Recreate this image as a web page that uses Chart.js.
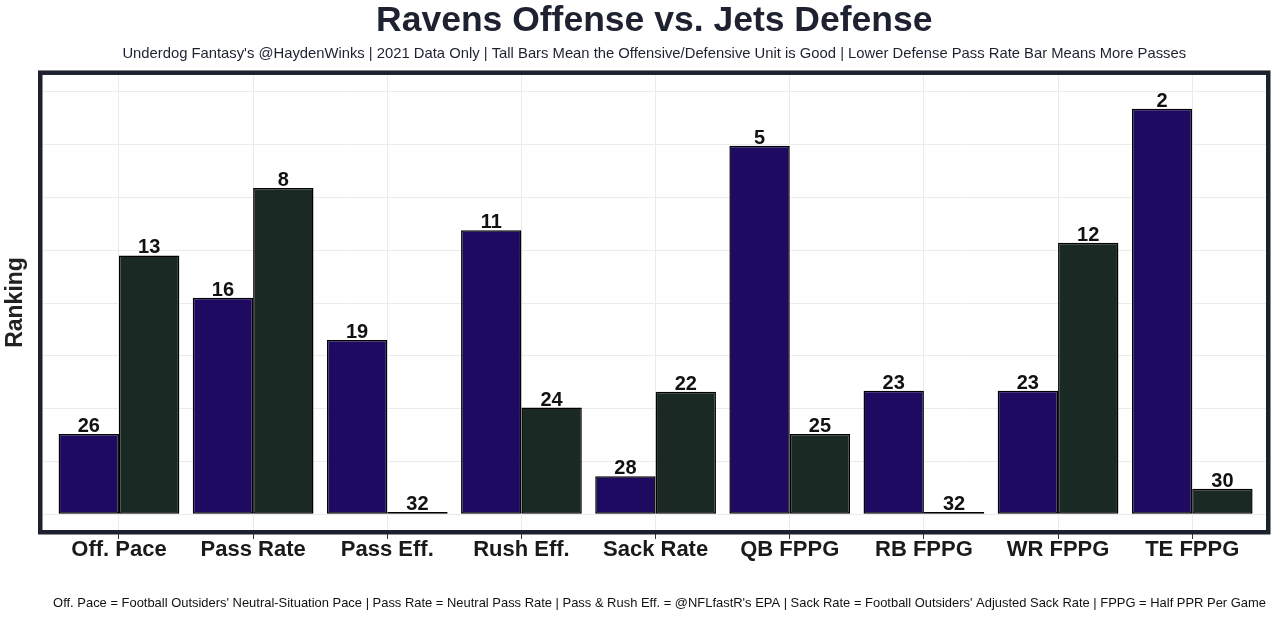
<!DOCTYPE html>
<html>
<head>
<meta charset="utf-8">
<script src="https://cdn.jsdelivr.net/npm/chart.js@4"></script>
<style>
  html, body { margin: 0; padding: 0; background: #fff; }
  #wrap { width: 1280px; height: 618px; }
</style>
</head>
<body>
<div id="wrap"><canvas id="bar-chart"></canvas></div>
<script>
// categories and values
var categorie = ['Off. Pace', 'Pass Rate', 'Pass Eff.', 'Rush Eff.', 'Sack Rate', 'QB FPPG', 'RB FPPG', 'WR FPPG', 'TE FPPG'];
var attaccoAltezza = [7.6, 20.5, 16.5, 26.9, 3.6, 34.9, 11.7, 11.7, 38.4];
var difesaAltezza = [24.5, 30.9, 0.2, 10.1, 11.6, 7.6, 0.2, 25.7, 2.4];
var attaccoRank = [26, 16, 19, 11, 28, 5, 23, 23, 2];
var difesaRank = [13, 8, 32, 24, 22, 25, 32, 12, 30];
var righeGriglia = [0, 5, 10, 15, 20, 25, 30, 35, 40];

var FONT = "'Liberation Sans', Arial, sans-serif";

function punti(valori) {
    return valori.map(function(v, i) { return {x: i, y: v}; });
}

// numbers above the bars
var etichette = {
    id: 'etichette',
    afterDatasetsDraw: function(chart) {
        var ctx = chart.ctx;
        var ranks = [attaccoRank, difesaRank];
        ctx.save();
        ctx.font = 'bold 20px ' + FONT;
        ctx.fillStyle = '#111';
        ctx.textAlign = 'center';
        ctx.textBaseline = 'alphabetic';
        chart.data.datasets.forEach(function(ds, d) {
            chart.getDatasetMeta(d).data.forEach(function(bar, i) {
                ctx.fillText(String(ranks[d][i]), bar.x, bar.y - 2);
            });
        });
        ctx.restore();
    }
};

// thick frame round the panel
var cornice = {
    id: 'cornice',
    afterDraw: function(chart) {
        var a = chart.chartArea;
        var ctx = chart.ctx;
        ctx.save();
        ctx.strokeStyle = '#1d212d';
        ctx.lineWidth = 4.5;
        ctx.strokeRect(a.left - 2.25, a.top - 2.25, a.right - a.left + 4.5, a.bottom - a.top + 4.5);
        ctx.restore();
    }
};

var barChart = new Chart(document.getElementById('bar-chart'), {
    type: 'bar',
    data: {
        datasets: [{
            label: 'Ravens Offense',
            data: punti(attaccoAltezza),
            backgroundColor: '#1f0a61',
            borderColor: '#000',
            borderWidth: 1.5,
            borderSkipped: false
        }, {
            label: 'Jets Defense',
            data: punti(difesaAltezza),
            backgroundColor: '#1b2924',
            borderColor: '#000',
            borderWidth: 1.5,
            borderSkipped: false
        }]
    },
    options: {
        responsive: true,
        maintainAspectRatio: false,
        animation: false,
        categoryPercentage: 0.9,
        barPercentage: 1.0,
        layout: { padding: { right: 14 } },
        plugins: {
            legend: { display: false },
            tooltip: { enabled: false },
            title: {
                display: true,
                fullSize: false,
                text: 'Ravens Offense vs. Jets Defense',
                color: '#1e2130',
                font: { family: FONT, size: 35.5, weight: 'bold', lineHeight: 1.2 },
                padding: { top: 0.2, bottom: 0 }
            },
            subtitle: {
                display: true,
                fullSize: false,
                text: "Underdog Fantasy's @HaydenWinks | 2021 Data Only | Tall Bars Mean the Offensive/Defensive Unit is Good | Lower Defense Pass Rate Bar Means More Passes",
                color: '#1e2130',
                font: { family: FONT, size: 14.8, lineHeight: 1.2 },
                padding: { top: 2.3, bottom: 12.1 }
            }
        },
        scales: {
            x: {
                type: 'linear',
                offset: false,
                min: -0.57,
                max: 8.55,
                afterBuildTicks: function(axis) {
                    axis.ticks = categorie.map(function(c, i) { return {value: i}; });
                },
                afterFit: function(axis) { axis.height = 88; },
                ticks: {
                    autoSkip: false,
                    maxRotation: 0,
                    padding: 0,
                    color: '#1a1a1a',
                    font: { family: FONT, size: 22, weight: 'bold', lineHeight: 1.0 },
                    callback: function(v) { return categorie[v]; }
                },
                grid: { offset: false, color: '#ebebeb', lineWidth: 1, tickColor: '#333', tickLength: 9 },
                border: { display: false },
                title: {
                    display: true,
                    align: 'end',
                    text: "Off. Pace = Football Outsiders' Neutral-Situation Pace | Pass Rate = Neutral Pass Rate | Pass & Rush Eff. = @NFLfastR's EPA | Sack Rate = Football Outsiders' Adjusted Sack Rate | FPPG = Half PPR Per Game",
                    color: '#111',
                    font: { family: FONT, size: 12.95, lineHeight: 1.2 },
                    padding: { top: 32, bottom: 7.2 }
                }
            },
            y: {
                min: -1.5,
                max: 41.6,
                afterBuildTicks: function(axis) {
                    axis.ticks = righeGriglia.map(function(v) { return {value: v}; });
                },
                afterFit: function(axis) { axis.width = 42.5; },
                ticks: { display: false },
                grid: { color: '#ebebeb', lineWidth: 1, drawTicks: false },
                border: { display: false },
                title: {
                    display: true,
                    text: 'Ranking',
                    color: '#222',
                    font: { family: FONT, size: 23, weight: 'bold', lineHeight: 1.2 },
                    padding: { top: 2, bottom: 0 }
                }
            }
        }
    },
    plugins: [etichette, cornice]
});
</script>
</body>
</html>
